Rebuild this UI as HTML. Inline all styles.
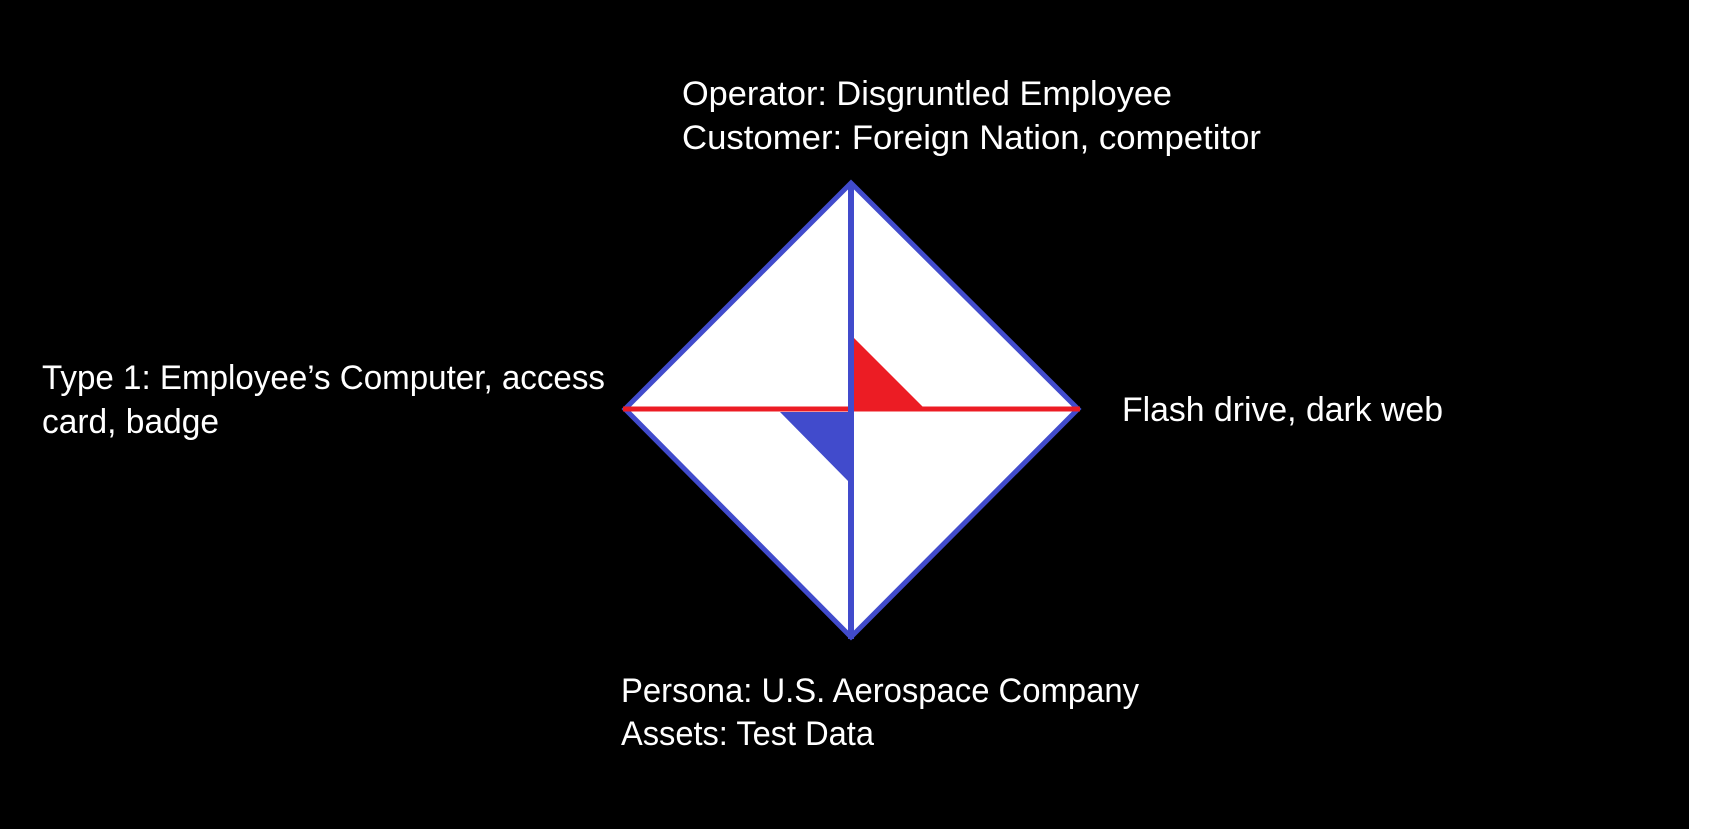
<!DOCTYPE html>
<html><head><meta charset="utf-8"><style>
html,body{margin:0;padding:0;background:#fff;}
svg{display:block;}
text{font-family:"Liberation Sans",sans-serif;font-size:34.5px;fill:#fff;}
</style></head><body>
<svg width="1721" height="829" viewBox="0 0 1721 829">
<rect x="0" y="0" width="1689" height="829" fill="#000"/>
<g>
<polygon points="851,183 1078,409 851,637 625,409" fill="#fff" stroke="#414bcc" stroke-width="5"/>
<polygon points="854,338 854,407 923,407" fill="#ec1c24"/>
<polygon points="780,412 849,412 849,482" fill="#414bcc"/>
<line x1="623" y1="409" x2="1080" y2="409" stroke="#ec1c24" stroke-width="5"/>
<line x1="851" y1="183" x2="851" y2="639" stroke="#414bcc" stroke-width="6"/>
</g>
<text x="682" y="105" textLength="490" lengthAdjust="spacingAndGlyphs">Operator: Disgruntled Employee</text>
<text x="682" y="149" textLength="579" lengthAdjust="spacingAndGlyphs">Customer: Foreign Nation, competitor</text>
<text x="42" y="389" textLength="563" lengthAdjust="spacingAndGlyphs">Type 1: Employee’s Computer, access</text>
<text x="42" y="433" textLength="177" lengthAdjust="spacingAndGlyphs">card, badge</text>
<text x="1122" y="421" textLength="321" lengthAdjust="spacingAndGlyphs">Flash drive, dark web</text>
<text x="621" y="702" textLength="518" lengthAdjust="spacingAndGlyphs">Persona: U.S. Aerospace Company</text>
<text x="621" y="745" textLength="253" lengthAdjust="spacingAndGlyphs">Assets: Test Data</text>
</svg>
</body></html>
